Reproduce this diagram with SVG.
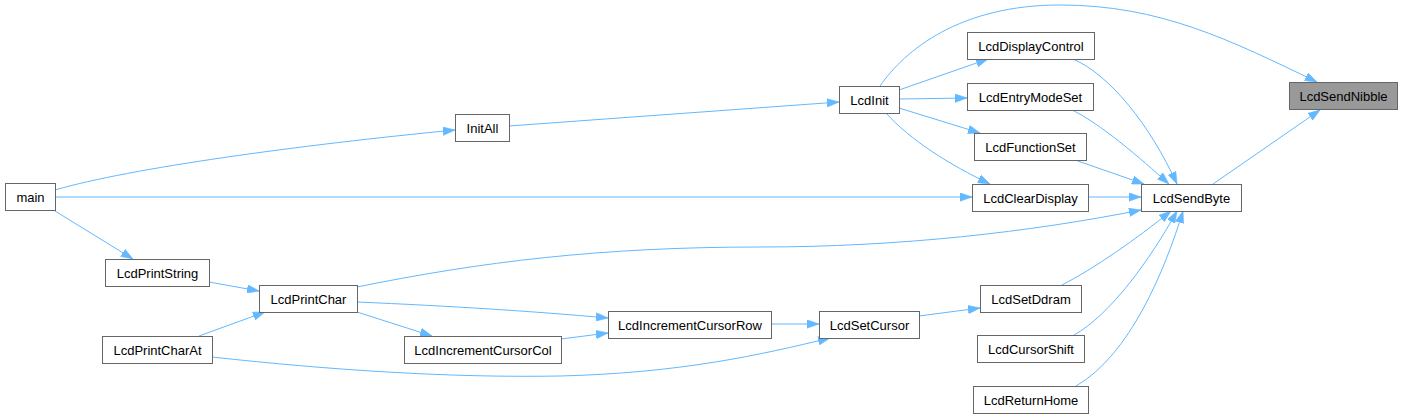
<svg xmlns="http://www.w3.org/2000/svg" width="1403" height="419" viewBox="0 0 1403 419">
<style>
.n rect{fill:#ffffff;stroke:#666666;stroke-width:1}
.n.h rect{fill:#999999}
.n text{font-family:"Liberation Sans",Arial,sans-serif;font-size:13px;fill:#000000;text-anchor:middle}
.e path{fill:none;stroke:#63b8ff;stroke-width:1;marker-end:url(#ah)}
</style>
<defs>
<marker id="ah" markerUnits="userSpaceOnUse" markerWidth="12" markerHeight="9" refX="10" refY="3.5" orient="auto" viewBox="0 0 10 7">
<path d="M0,0 L10,3.5 L0,7 z" fill="#63b8ff" stroke="#63b8ff" stroke-width="0.5"/>
</marker>
</defs>
<rect x="0" y="0" width="1403" height="419" fill="#ffffff"/>
<g id="edges" class="e">
<path d="M880,86 C905,50 960,5 1060,5 C1160,5 1230,40 1317,82"/>
<path d="M1213,184 L1320,110"/>
<path d="M1073,59 C1110,75 1150,125 1177,184"/>
<path d="M1070,109 C1100,123 1140,158 1169,184"/>
<path d="M1075,160 L1144,184"/>
<path d="M1088,197 L1141,197"/>
<path d="M357,287 C480,262 600,247 760,247 C900,247 1030,232 1141,210"/>
<path d="M1062,285 C1095,268 1135,240 1171,211"/>
<path d="M1074,335 C1110,315 1150,260 1177,211"/>
<path d="M1076,386 C1130,355 1165,270 1183,211"/>
<path d="M899,90 L988,59"/>
<path d="M899,99 L967,98"/>
<path d="M899,108 L980,133"/>
<path d="M886,113 C910,140 950,165 990,184"/>
<path d="M509,126 L839,102"/>
<path d="M55,190 C130,168 300,145 455,130"/>
<path d="M55,197 L972,197"/>
<path d="M55,211 L133,259"/>
<path d="M209,282 L259,291"/>
<path d="M199,336 L265,312"/>
<path d="M357,302 C450,306 530,311 608,318"/>
<path d="M357,312 L432,336"/>
<path d="M561,339 L608,333"/>
<path d="M771,324 L819,324"/>
<path d="M212,357 C330,370 450,378 560,376 C680,373 760,355 830,338"/>
<path d="M919,316 L980,308"/>
</g>
<g id="LcdSendNibble" class="n h"><rect x="1289.5" y="82.5" width="108" height="27"/><text x="1343.5" y="100.5">LcdSendNibble</text></g>
<g id="LcdSendByte" class="n"><rect x="1141.5" y="184.5" width="100" height="27"/><text x="1191.5" y="202.5">LcdSendByte</text></g>
<g id="LcdInit" class="n"><rect x="839.5" y="86.5" width="60" height="27"/><text x="869.5" y="104.5">LcdInit</text></g>
<g id="LcdDisplayControl" class="n"><rect x="967.5" y="32.5" width="127" height="27"/><text x="1031" y="50.5">LcdDisplayControl</text></g>
<g id="LcdEntryModeSet" class="n"><rect x="967.5" y="83.5" width="126" height="27"/><text x="1030.5" y="101.5">LcdEntryModeSet</text></g>
<g id="LcdFunctionSet" class="n"><rect x="974.5" y="133.5" width="112" height="27"/><text x="1030.5" y="151.5">LcdFunctionSet</text></g>
<g id="LcdClearDisplay" class="n"><rect x="972.5" y="184.5" width="116" height="27"/><text x="1030.5" y="202.5">LcdClearDisplay</text></g>
<g id="LcdSetDdram" class="n"><rect x="980.5" y="285.5" width="101" height="27"/><text x="1031" y="303.5">LcdSetDdram</text></g>
<g id="LcdCursorShift" class="n"><rect x="977.5" y="335.5" width="107" height="27"/><text x="1031" y="353.5">LcdCursorShift</text></g>
<g id="LcdReturnHome" class="n"><rect x="973.5" y="386.5" width="115" height="27"/><text x="1031" y="404.5">LcdReturnHome</text></g>
<g id="InitAll" class="n"><rect x="455.5" y="114.5" width="54" height="27"/><text x="482.5" y="132.5">InitAll</text></g>
<g id="main" class="n"><rect x="5.5" y="183.5" width="50" height="27"/><text x="30.5" y="201.5">main</text></g>
<g id="LcdPrintString" class="n"><rect x="105.5" y="259.5" width="104" height="27"/><text x="157.5" y="277.5">LcdPrintString</text></g>
<g id="LcdPrintChar" class="n"><rect x="259.5" y="285.5" width="98" height="27"/><text x="308.5" y="303.5">LcdPrintChar</text></g>
<g id="LcdPrintCharAt" class="n"><rect x="102.5" y="336.5" width="110" height="27"/><text x="157.5" y="354.5">LcdPrintCharAt</text></g>
<g id="LcdIncrementCursorCol" class="n"><rect x="404.5" y="336.5" width="157" height="27"/><text x="483" y="354.5">LcdIncrementCursorCol</text></g>
<g id="LcdIncrementCursorRow" class="n"><rect x="608.5" y="311.5" width="163" height="27"/><text x="690" y="329.5">LcdIncrementCursorRow</text></g>
<g id="LcdSetCursor" class="n"><rect x="819.5" y="311.5" width="100" height="27"/><text x="869.5" y="329.5">LcdSetCursor</text></g>
</svg>
